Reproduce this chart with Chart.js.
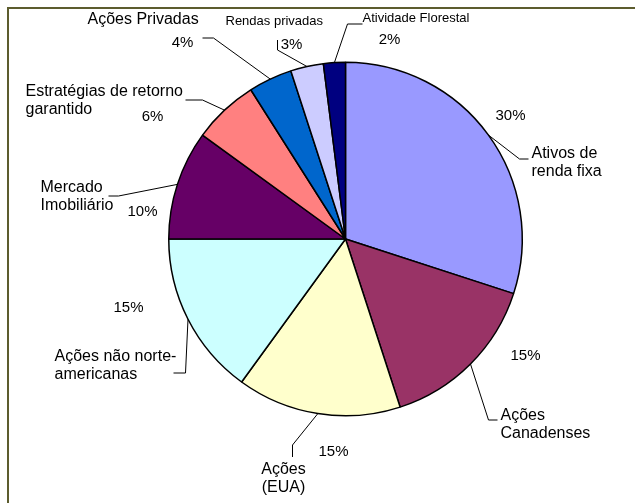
<!DOCTYPE html>
<html>
<head>
<meta charset="utf-8">
<script src="https://cdn.jsdelivr.net/npm/chart.js@4"></script>
<style>
    html, body { margin: 0; padding: 0; background: #fff; overflow: hidden; }
    #wrap { position: relative; width: 635px; height: 503px; }
    #frame { position: absolute; left: 7px; top: 7px; width: 700px; height: 600px; border: 2px solid #5c5c2e; }
    #pie { position: absolute; left: 0; top: 0; }
</style>
</head>
<body>
<div id="wrap">
    <div id="frame"></div>
    <canvas id="pie" width="635" height="503"></canvas>
</div>
<script>
const categories = [
    ['Ativos de', 'renda fixa'],
    ['Ações', 'Canadenses'],
    ['Ações', '(EUA)'],
    ['Ações não norte-', 'americanas'],
    ['Mercado', 'Imobiliário'],
    ['Estratégias de retorno', 'garantido'],
    ['Ações Privadas'],
    ['Rendas privadas'],
    ['Atividade Florestal']
];
const shares = [30, 15, 15, 15, 10, 6, 4, 3, 2];
const sliceColors = ['#9999FF', '#993366', '#FFFFCC', '#CCFFFF', '#660066', '#FF8080', '#0066CC', '#CCCCFF', '#000080'];

// label placement relative to the pie centre: elbow, end of leader, name anchor, percent anchor
const labelLayout = [
    { elbow: [174, -80], end: [183, -80], name: [186, -85], align: 'left', pct: [165, -123], size: 16 },
    { elbow: [143, 181], end: [152, 181], name: [155, 177], align: 'left', pct: [180, 117], size: 16 },
    { elbow: [-53, 206], end: [-53, 218], name: [-62, 231], align: 'center', pct: [-12, 213], size: 16 },
    { elbow: [-160, 134], end: [-172, 134], name: [-291, 118], align: 'left', pct: [-217, 69], size: 16 },
    { elbow: [-227, -43], end: [-237, -43], name: [-305, -51], align: 'left', pct: [-203, -27], size: 16 },
    { elbow: [-143, -139], end: [-160, -139], name: [-320, -147], align: 'left', pct: [-193, -122], size: 16 },
    { elbow: [-132, -201], end: [-143, -201], name: [-258, -219], align: 'left', pct: [-163, -196], size: 16 },
    { elbow: [-68, -189], end: [-68, -199], name: [-120, -218], align: 'left', pct: [-54, -194], size: 13 },
    { elbow: [2, -215], end: [17, -215], name: [17, -221], align: 'left', pct: [44, -199], size: 13 }
];

const leaderLabels = {
    id: 'leaderLabels',
    afterDatasetsDraw(chart) {
        const ctx = chart.ctx;
        const arcs = chart.getDatasetMeta(0).data;
        ctx.save();
        ctx.strokeStyle = '#000';
        ctx.fillStyle = '#000';
        ctx.lineWidth = 1;
        ctx.textBaseline = 'middle';
        arcs.forEach((arc, i) => {
            const p = arc.getProps(['x', 'y', 'startAngle', 'endAngle', 'outerRadius'], true);
            const mid = (p.startAngle + p.endAngle) / 2;
            const sx = p.x + Math.cos(mid) * p.outerRadius;
            const sy = p.y + Math.sin(mid) * p.outerRadius;
            const lay = labelLayout[i];

            ctx.beginPath();
            ctx.moveTo(sx, sy);
            ctx.lineTo(p.x + lay.elbow[0], p.y + lay.elbow[1]);
            ctx.lineTo(p.x + lay.end[0], p.y + lay.end[1]);
            ctx.stroke();

            ctx.font = lay.size + 'px "Liberation Sans", Arial, sans-serif';
            ctx.textAlign = lay.align;
            categories[i].forEach((line, k) => {
                ctx.fillText(line, p.x + lay.name[0], p.y + lay.name[1] + k * 18);
            });

            ctx.font = '15px "Liberation Sans", Arial, sans-serif';
            ctx.textAlign = 'center';
            ctx.fillText(shares[i] + '%', p.x + lay.pct[0], p.y + lay.pct[1]);
        });
        ctx.restore();
    }
};

new Chart(document.getElementById('pie'), {
    type: 'pie',
    data: {
        labels: categories.map(c => c.join(' ')),
        datasets: [{
            data: shares,
            backgroundColor: sliceColors,
            borderColor: '#000',
            borderWidth: 1.5
        }]
    },
    options: {
        responsive: false,
        animation: false,
        layout: { padding: { left: 168, right: 112, top: 61, bottom: 86 } },
        plugins: { legend: { display: false }, tooltip: { enabled: false } }
    },
    plugins: [leaderLabels]
});
</script>
</body>
</html>
